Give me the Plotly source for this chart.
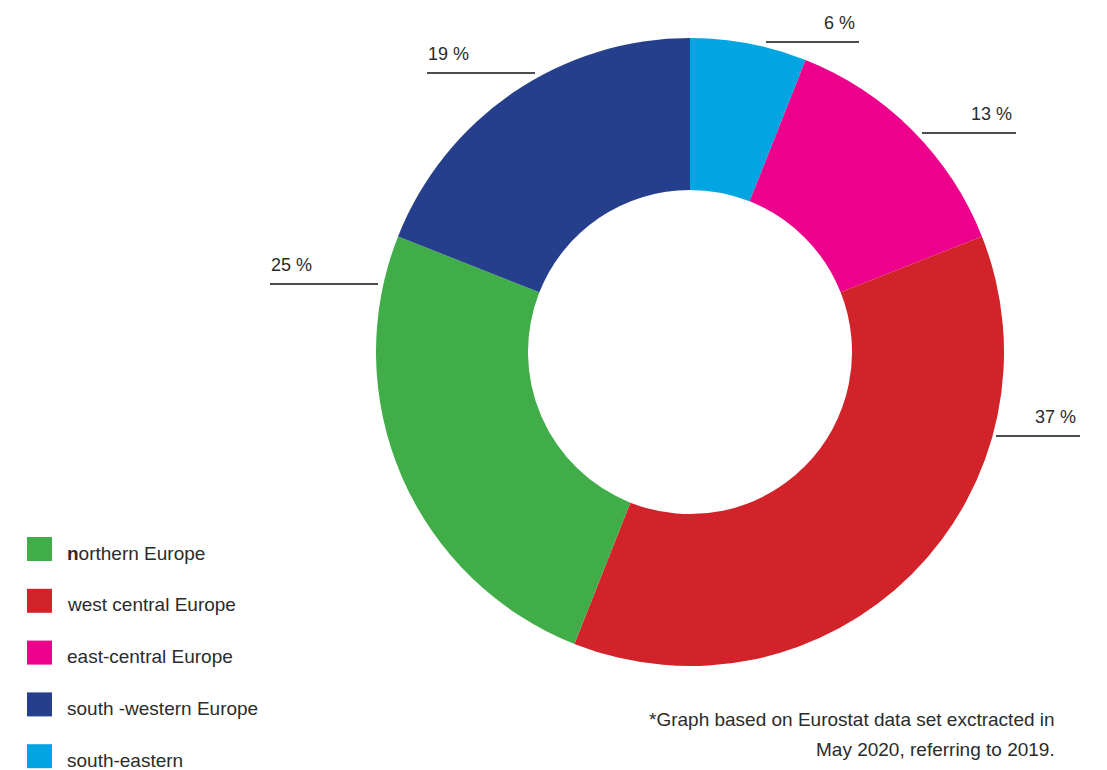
import plotly.graph_objects as go

# Share of total by European region (percent)
regions = ["south-eastern", "east-central Europe", "west central Europe",
           "northern Europe", "south -western Europe"]
shares = [6, 13, 37, 25, 19]
colors = ["#00A5E1", "#EC008C", "#D2232A", "#41AD49", "#253F8D"]

# Legend order and text
legend_order = ["northern Europe", "west central Europe", "east-central Europe",
                "south -western Europe", "south-eastern"]
legend_text = ["<b>n</b>orthern Europe", "west central Europe", "east-central Europe",
               "south -western Europe", "south-eastern"]

footnote = ["*Graph based on Eurostat data set exctracted in",
            "May 2020, referring to 2019."]

W, H = 1107, 770
FONT = "Liberation Sans"
TXT = "#2b2b2b"


def px(x):
    return x / W


def py(y):
    return 1 - y / H


# Donut geometry (pixels): centre and outer radius
cx, cy, r_out = 690, 352, 314

fig = go.Figure(go.Pie(
    labels=regions,
    values=shares,
    marker=dict(colors=colors, line=dict(width=0)),
    hole=0.516,
    sort=False,
    direction="clockwise",
    rotation=0,
    textinfo="none",
    hoverinfo="skip",
    showlegend=False,
    domain=dict(x=[px(cx - r_out), px(cx + r_out)],
                y=[py(cy + r_out), py(cy - r_out)]),
))

shapes = []
annotations = []

# Leader lines with percentage labels: (x0, x1, y, side the text is aligned to)
leaders = {
    "south-eastern": (766, 859, 42, "right"),
    "east-central Europe": (922, 1016, 133, "right"),
    "west central Europe": (996, 1080, 436, "right"),
    "northern Europe": (270, 378, 284, "left"),
    "south -western Europe": (427, 535, 73, "left"),
}
for name, val in zip(regions, shares):
    x0, x1, y, side = leaders[name]
    shapes.append(dict(type="line", xref="paper", yref="paper",
                       x0=px(x0), x1=px(x1), y0=py(y), y1=py(y),
                       line=dict(color="#111111", width=1.5)))
    annotations.append(dict(
        text=f"{val} %", xref="paper", yref="paper",
        x=px(x1 - 2) if side == "right" else px(x0 - 1),
        y=py(y - 7), xanchor=side, yanchor="bottom",
        showarrow=False, font=dict(family=FONT, size=18, color=TXT)))

# Custom legend: coloured squares with labels
color_of = dict(zip(regions, colors))
for i, (name, text) in enumerate(zip(legend_order, legend_text)):
    top = 537 + i * 51.8
    shapes.append(dict(type="rect", xref="paper", yref="paper",
                       x0=px(27), x1=px(52), y0=py(top + 24), y1=py(top),
                       fillcolor=color_of[name], line=dict(width=0)))
    annotations.append(dict(
        text=text, xref="paper", yref="paper",
        x=px(65), y=py(top + 16), xanchor="left", yanchor="middle",
        showarrow=False, font=dict(family=FONT, size=19, color=TXT)))

# Footnote, right aligned
for j, line in enumerate(footnote):
    annotations.append(dict(
        text=line, xref="paper", yref="paper",
        x=px(1057), y=py(719 + j * 30), xanchor="right", yanchor="middle",
        showarrow=False, font=dict(family=FONT, size=19, color=TXT)))

fig.update_layout(
    width=W, height=H,
    margin=dict(l=0, r=0, t=0, b=0),
    paper_bgcolor="white",
    plot_bgcolor="white",
    shapes=shapes,
    annotations=annotations,
)

fig.write_html("out.html")
